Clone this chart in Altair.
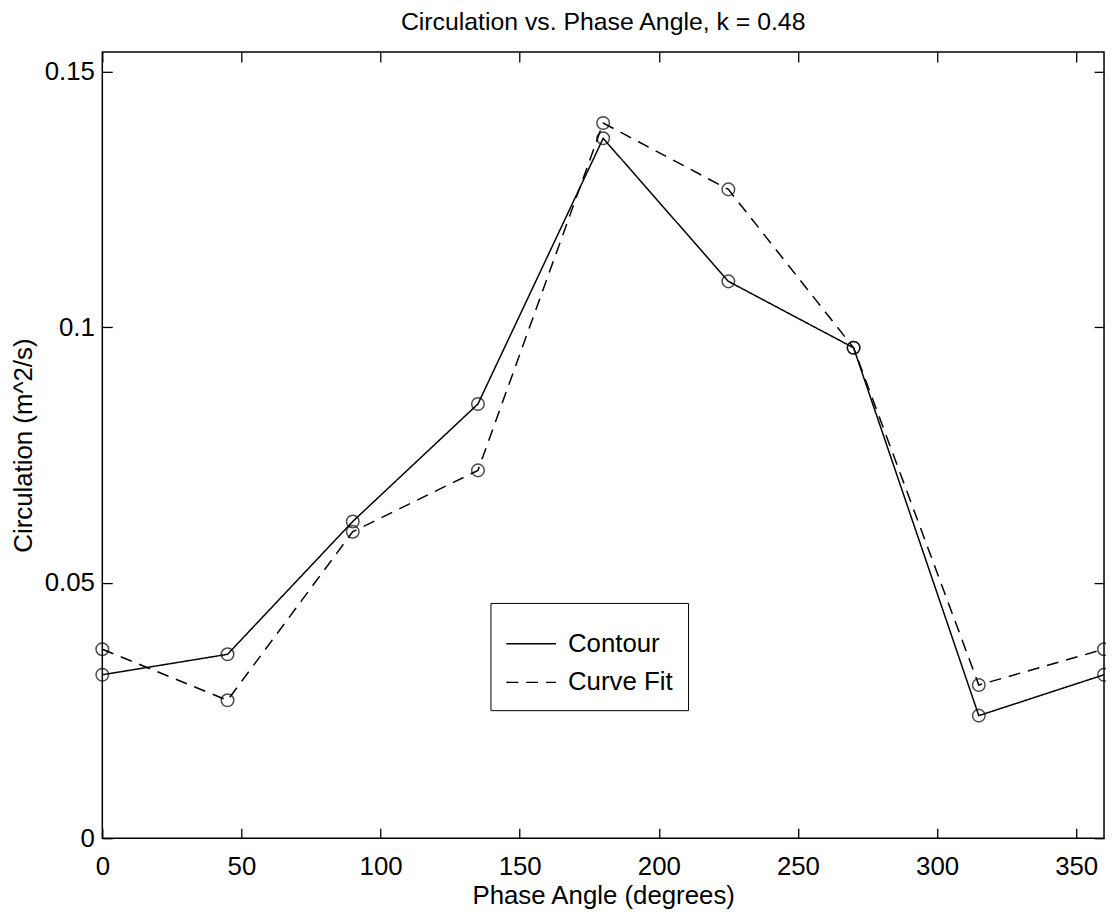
import altair as alt
import pandas as pd

phase = [0, 45, 90, 135, 180, 225, 270, 315, 360]
contour = [0.032, 0.036, 0.062, 0.085, 0.137, 0.109, 0.096, 0.024, 0.032]
curvefit = [0.037, 0.027, 0.060, 0.072, 0.140, 0.127, 0.096, 0.030, 0.037]
series = ["Contour", "Curve Fit"]
xticks = [0, 50, 100, 150, 200, 250, 300, 350]
yticks = [0, 0.05, 0.1, 0.15]

df = pd.DataFrame({
    "phase": phase * 2,
    "circ": contour + curvefit,
    "series": [series[0]] * len(phase) + [series[1]] * len(phase),
})

FONT = "Liberation Sans"
FS = 26
W, H = 1009, 792
xscale = alt.Scale(domain=[0, 360], nice=False, zero=False)
yscale = alt.Scale(domain=[0, 0.1539], nice=False)

common_axis = dict(offset=-10, tickSize=10, tickColor="black", tickWidth=1.3,
                   domain=False, grid=False, labelFont=FONT, labelColor="black",
                   labelFlush=False, labelOverlap=False,
                   titleFont=FONT, titleColor="black", titleFontWeight="normal")

x_bottom = alt.Axis(orient="bottom", values=xticks, labelFontSize=FS, labelPadding=16,
                    title="Phase Angle (degrees)", titleFontSize=FS, titlePadding=3,
                    **common_axis)
y_left = alt.Axis(orient="left", values=yticks, labelFontSize=FS, labelPadding=8,
                  format="~g", title="Circulation (m^2/s)", titleFontSize=FS,
                  titlePadding=8, **common_axis)
x_top = alt.Axis(orient="top", values=xticks, labels=False, title=None, **common_axis)
y_right = alt.Axis(orient="right", values=yticks, labels=False, title=None, **common_axis)

lines = alt.Chart(df).mark_line(color="black", strokeWidth=1.5).encode(
    x=alt.X("phase:Q", scale=xscale, axis=x_bottom),
    y=alt.Y("circ:Q", scale=yscale, axis=y_left),
    strokeDash=alt.StrokeDash(
        "series:N",
        scale=alt.Scale(domain=series, range=[[1, 0], [12, 8]]),
        legend=alt.Legend(
            orient="none", legendX=391, legendY=555, title=None,
            strokeColor="black", fillColor="white", padding=15,
            labelFont=FONT, labelFontSize=FS, labelColor="black", labelOffset=11,
            symbolType="stroke", symbolSize=2500, symbolStrokeWidth=1.5,
            symbolStrokeColor="black", rowPadding=0,
        ),
    ),
)

points = alt.Chart(df).mark_point(shape="circle", filled=False, size=160,
                                  strokeWidth=1.5, color="black").encode(
    x=alt.X("phase:Q", scale=xscale, axis=x_top),
    y=alt.Y("circ:Q", scale=yscale, axis=y_right),
    detail="series:N",
)

chart = alt.layer(lines, points).resolve_axis(x="independent", y="independent").properties(
    width=W, height=H,
    title=alt.TitleParams("Circulation vs. Phase Angle, k = 0.48", font=FONT,
                          fontSize=25, fontWeight="normal", color="black",
                          anchor="middle", offset=16),
    autosize=alt.AutoSizeParams(type="none"),
    padding={"left": 95, "top": 41, "right": 2, "bottom": 70},
    background="white",
).configure_view(stroke="black", strokeWidth=1.5)

chart.save("out.html", embed_options={"renderer": "svg", "actions": False})
